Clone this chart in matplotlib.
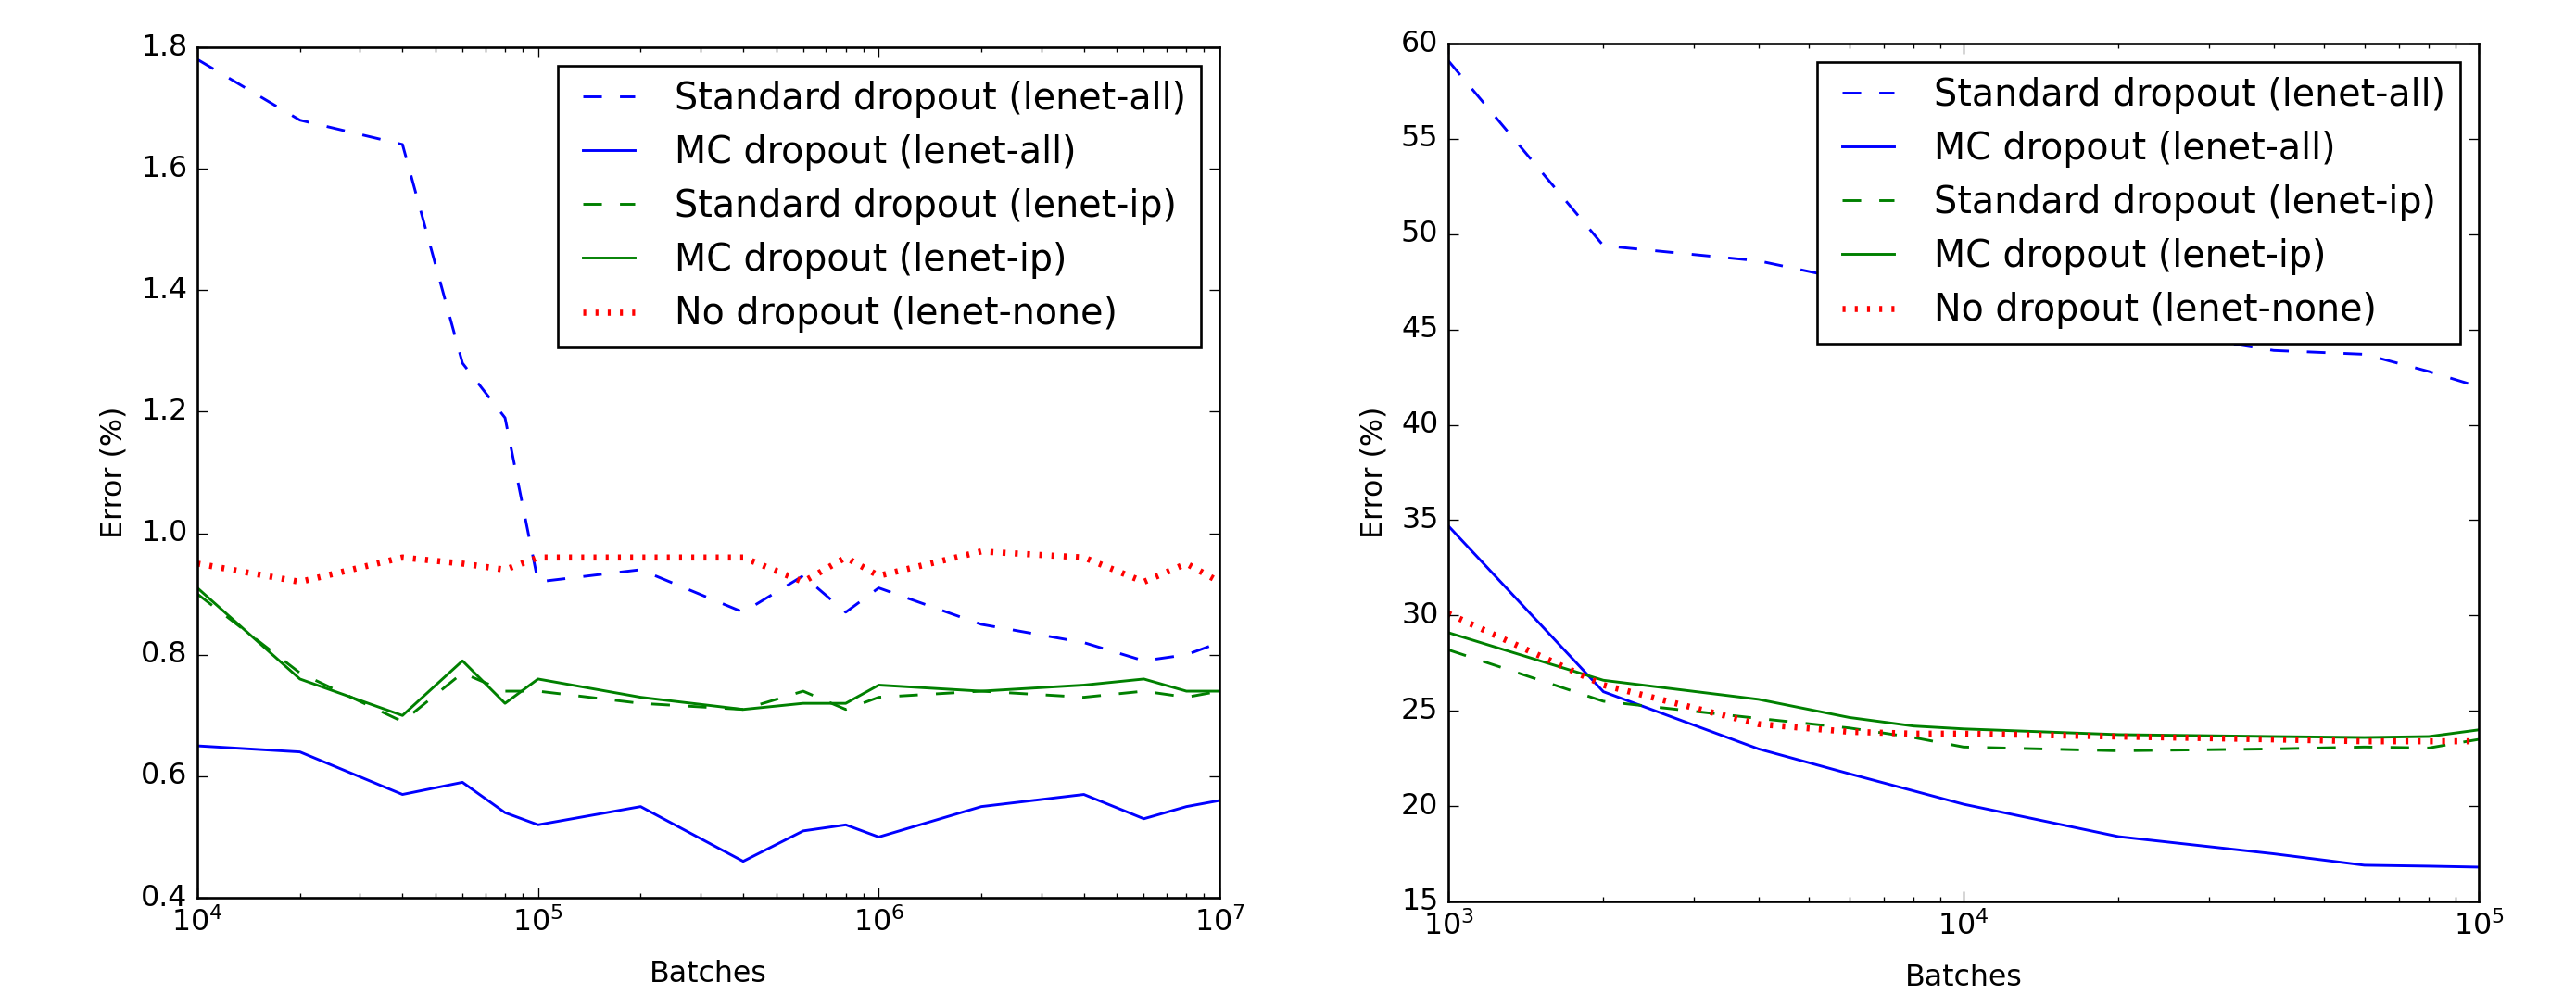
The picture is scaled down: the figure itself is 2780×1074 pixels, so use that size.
"""
test error vs number of batches for dropout variants (lenet)
"""

import numpy as np
import matplotlib
matplotlib.use('Agg')
import matplotlib.pyplot as plt

plt.style.use('classic')
plt.rcParams['lines.scale_dashes'] = False

# left panel data
left_x = [1e4, 2e4, 4e4, 6e4, 8e4, 1e5, 2e5, 4e5, 6e5, 8e5,
          1e6, 2e6, 4e6, 6e6, 8e6, 1e7]
left_std_all = [1.78, 1.68, 1.64, 1.28, 1.19, 0.92, 0.94, 0.87, 0.93, 0.87,
                0.91, 0.85, 0.82, 0.79, 0.80, 0.82]
left_mc_all = [0.65, 0.64, 0.57, 0.59, 0.54, 0.52, 0.55, 0.46, 0.51, 0.52,
               0.50, 0.55, 0.57, 0.53, 0.55, 0.56]
left_std_ip = [0.90, 0.77, 0.69, 0.77, 0.74, 0.74, 0.72, 0.71, 0.74, 0.71,
               0.73, 0.74, 0.73, 0.74, 0.73, 0.74]
left_mc_ip = [0.91, 0.76, 0.70, 0.79, 0.72, 0.76, 0.73, 0.71, 0.72, 0.72,
              0.75, 0.74, 0.75, 0.76, 0.74, 0.74]
left_none = [0.95, 0.92, 0.96, 0.95, 0.94, 0.96, 0.96, 0.96, 0.92, 0.96,
             0.93, 0.97, 0.96, 0.92, 0.95, 0.92]

# right panel data
right_x = [1e3, 2e3, 4e3, 6e3, 8e3, 1e4, 2e4, 4e4, 6e4, 8e4, 1e5]
right_std_all = [59.1, 49.4, 48.6, 47.6, 46.9, 46.3, 45.2, 43.9, 43.7, 42.8, 42.0]
right_mc_all = [34.7, 26.0, 23.0, 21.7, 20.8, 20.1, 18.4, 17.5, 16.9, 16.85, 16.8]
right_std_ip = [28.2, 25.5, 24.6, 24.1, 23.6, 23.1, 22.9, 23.0, 23.1, 23.05, 23.5]
right_mc_ip = [29.1, 26.6, 25.6, 24.65, 24.2, 24.05, 23.75, 23.65, 23.6, 23.65, 24.0]
right_none = [30.1, 26.35, 24.3, 23.9, 23.8, 23.8, 23.65, 23.5, 23.4, 23.4, 23.4]

labels = ['Standard dropout (lenet-all)', 'MC dropout (lenet-all)',
          'Standard dropout (lenet-ip)', 'MC dropout (lenet-ip)',
          'No dropout (lenet-none)']

dashed = (0, (7.6, 7.4))
dotted = (0, (1.2, 3.8))
lw = 1.1

dpi = 190
fig = plt.figure(figsize=(2780 / dpi, 1074 / dpi), dpi=dpi, facecolor='white')
ax1 = fig.add_axes([213 / 2780, 1 - 969 / 1074, 1103 / 2780, 918 / 1074])
ax2 = fig.add_axes([1563 / 2780, 1 - 973 / 1074, 1112 / 2780, 926 / 1074])

panels = [
    (ax1, left_x, [left_std_all, left_mc_all, left_std_ip, left_mc_ip, left_none],
     (1e4, 1e7), (0.4, 1.8), np.arange(0.4, 1.81, 0.2)),
    (ax2, right_x, [right_std_all, right_mc_all, right_std_ip, right_mc_ip, right_none],
     (1e3, 1e5), (15, 60), np.arange(15, 61, 5)),
]

for ax, x, series, xlim, ylim, yticks in panels:
    std_all, mc_all, std_ip, mc_ip, none = series
    ax.plot(x, std_all, color='b', lw=lw, linestyle=dashed, label=labels[0])
    ax.plot(x, mc_all, color='b', lw=lw, linestyle='-', label=labels[1])
    ax.plot(x, std_ip, color='g', lw=lw, linestyle=dashed, label=labels[2])
    ax.plot(x, mc_ip, color='g', lw=lw, linestyle='-', label=labels[3])
    ax.plot(x, none, color='r', lw=2.5, linestyle=dotted, label=labels[4])

    ax.set_xscale('log')
    ax.set_xlim(xlim)
    ax.set_ylim(ylim)
    ax.set_yticks(yticks)
    ax.set_xlabel('Batches', labelpad=9)
    ax.set_ylabel('Error (%)')
    ax.legend(loc='upper right', fontsize=15, labelspacing=0.46)

fig.savefig('out.png', dpi=dpi, facecolor='white')
